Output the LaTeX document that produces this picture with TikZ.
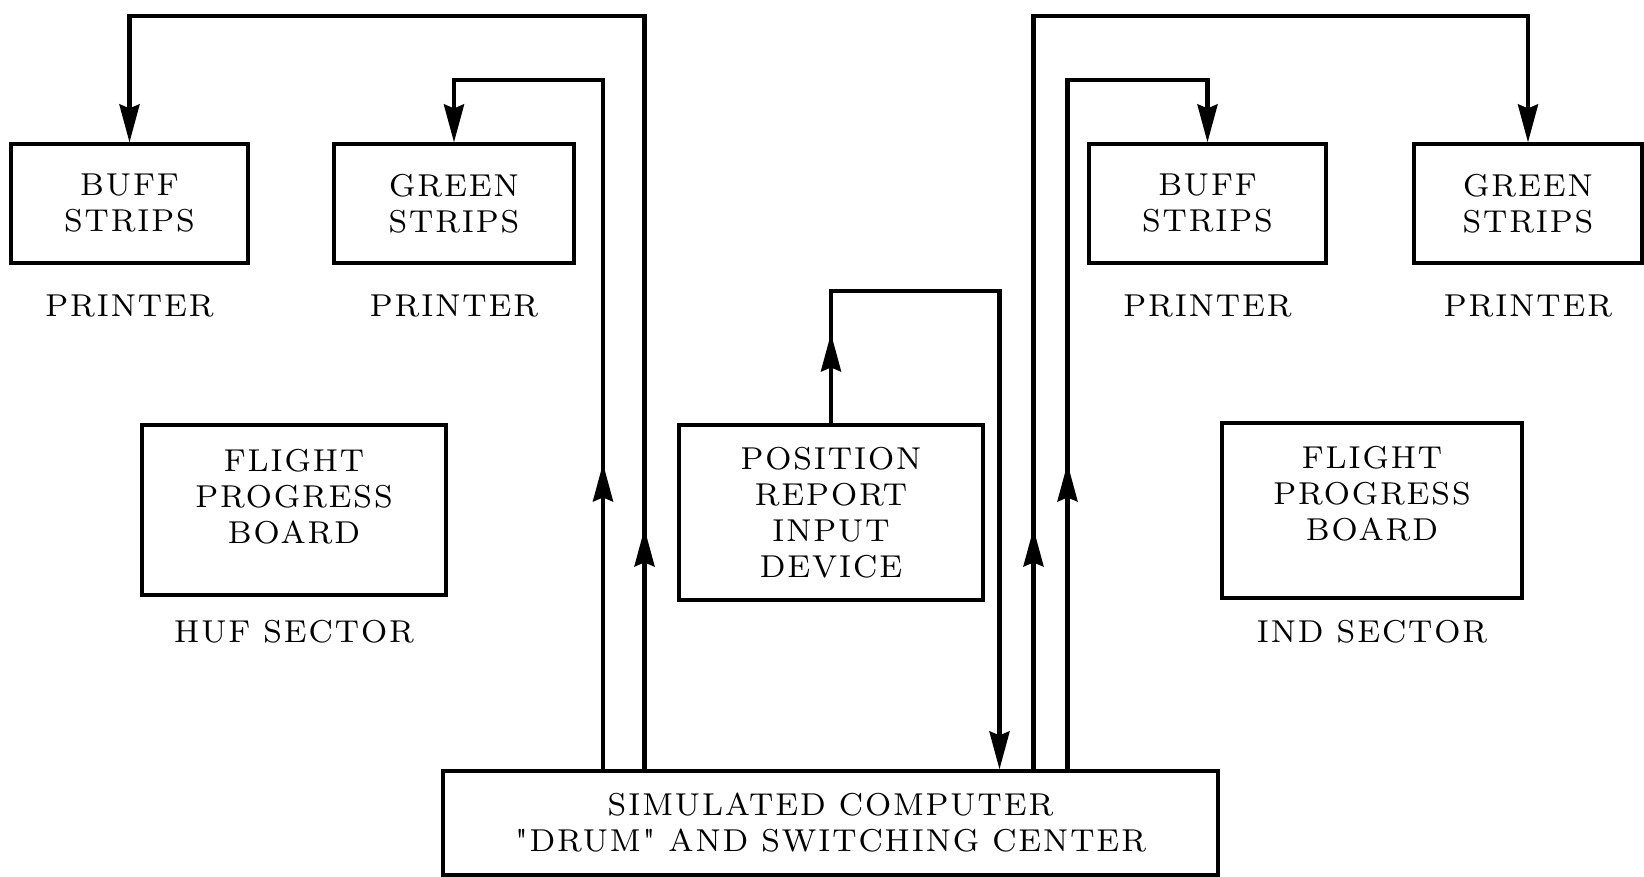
\documentclass[tikz,border=0pt]{standalone}
\usepackage{fontspec}
\usepackage{tikz}
\usetikzlibrary{arrows.meta,positioning}

\newfontfamily\spacedrm{lmroman8-regular.otf}[LetterSpace=6, Ligatures=TeXOff]
\newcommand{\dtext}{\spacedrm\fontsize{9}{10.25}\selectfont}

\begin{document}
\begin{tikzpicture}
    \tikzstyle{unit} = [draw, line width=0.9pt, inner sep=0pt, font=\dtext, align=center]
    \tikzstyle{tag} = [font=\dtext, align=center]
    \tikzstyle{flow} = [line width=1.2pt, -{Stealth[length=3.8mm, width=2mm, inset=0.4mm]}]

    \useasboundingbox (0,0) rectangle (16.44,-8.77);

    % printers along the top
    \node[unit, minimum width=2.37cm, minimum height=1.19cm] (buffL) at (1.295,-2.035) {BUFF\\STRIPS};
    \node[unit, minimum width=2.40cm, minimum height=1.19cm] (greenL) at (4.54,-2.035) {GREEN\\STRIPS};
    \node[unit, minimum width=2.37cm, minimum height=1.19cm] (buffR) at (12.075,-2.035) {BUFF\\STRIPS};
    \node[unit, minimum width=2.28cm, minimum height=1.19cm] (greenR) at (15.28,-2.035) {GREEN\\STRIPS};

    \node[tag, below=0.18cm of buffL] (prnA) {PRINTER};
    \node[tag, below=0.18cm of greenL] (prnB) {PRINTER};
    \node[tag, below=0.18cm of buffR] (prnC) {PRINTER};
    \node[tag, below=0.18cm of greenR] (prnD) {PRINTER};

    % flight progress boards of the two sectors
    \node[unit, minimum width=3.04cm, minimum height=1.70cm] (fpbL) at (2.94,-5.10) {};
    \node[tag, yshift=1.3mm] (fpbLtxt) at (fpbL) {FLIGHT\\PROGRESS\\BOARD};
    \node[tag, below=0.11cm of fpbL] (secL) {HUF SECTOR};

    \node[unit, minimum width=3.00cm, minimum height=1.75cm] (fpbR) at (13.72,-5.105) {};
    \node[tag, yshift=1.7mm] (fpbRtxt) at (fpbR) {FLIGHT\\PROGRESS\\BOARD};
    \node[tag, below=0.08cm of fpbR] (secR) {IND SECTOR};

    % input device and the drum
    \node[unit, minimum width=3.04cm, minimum height=1.75cm] (prid) at (8.31,-5.125) {POSITION\\REPORT\\INPUT\\DEVICE};
    \node[unit, minimum width=7.75cm, minimum height=1.04cm] (comp) at (8.305,-8.23) {SIMULATED COMPUTER\\"DRUM" AND SWITCHING CENTER};

    % where the lines leave the drum
    \coordinate (f1) at ([xshift=-2.275cm]comp.north);
    \coordinate (f2) at ([xshift=-1.86cm]comp.north);
    \coordinate (f3) at ([xshift=1.69cm]comp.north);
    \coordinate (f4) at ([xshift=2.03cm]comp.north);
    \coordinate (f5) at ([xshift=2.37cm]comp.north);
    \coordinate (topA) at (0,-0.16);
    \coordinate (topB) at (0,-0.80);
    \coordinate (topC) at (0,-2.91);

    \draw[flow] (f2) |- (buffL.north |- topA) -- (buffL.north);
    \draw[flow] (f1) |- (greenL.north |- topB) -- (greenL.north);
    \draw[flow] (f4) |- (greenR.north |- topA) -- (greenR.north);
    \draw[flow] (f5) |- (buffR.north |- topB) -- (buffR.north);
    \draw[flow] (prid.north) |- (f3 |- topC) -- (f3);

    % heads part way up the risers
    \draw[flow] (f1) -- ++(0,3.06);
    \draw[flow] (f2) -- ++(0,2.41);
    \draw[flow] (f4) -- ++(0,2.41);
    \draw[flow] (f5) -- ++(0,3.06);
    \draw[flow] (prid.north) -- ++(0,0.90);
\end{tikzpicture}
\end{document}
